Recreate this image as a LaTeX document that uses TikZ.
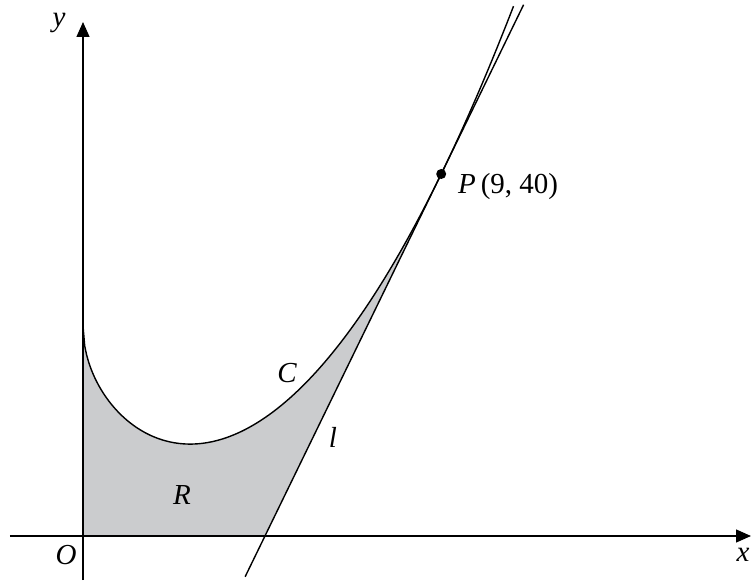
\documentclass[tikz,border=0pt]{standalone}
\usepackage{fontspec}
\setmainfont{Liberation Serif}
\usetikzlibrary{arrows.meta}
\definecolor{rfill}{RGB}{203,204,206}
\tikzset{
  axis/.style={line width=1.4pt, -{Triangle[length=15pt,width=13pt]}},
  curveline/.style={line width=1.4pt, line join=round},
  lab/.style={font=\fontsize{29}{32}\selectfont\itshape, inner sep=0pt},
}
\begin{document}
\begin{tikzpicture}[x=39.8pt, y=9.05pt]
\useasboundingbox (-83pt,-44pt) rectangle (668pt,536pt);
\pgfmathsetmacro{\m}{18*0.6 - 10.6/6}
\coordinate (O) at (0,0);
\coordinate (P) at (9,40);
\coordinate (Xint) at ({9-40/\m},0);
\coordinate (Lbot) at ({9-44.5/\m},-4.5);
\coordinate (Ltop) at ({9+18.7/\m},58.7);
% shaded region R
\fill[rfill] (O) -- (0,23.2) -- plot[domain=0:9, samples=150] (\x, {0.6*\x*\x - 10.6*sqrt(\x) + 23.2}) -- (Xint) -- cycle;
% axes
\coordinate (Xl) at (-73pt,0);
\coordinate (Xr) at (668pt,0);
\coordinate (Yb) at (0,-44pt);
\coordinate (Yt) at (0,514pt);
\draw[axis] (Xl) -- (Xr);
\draw[axis] (Yb) -- (Yt);
% curve C
\draw[curveline] plot[domain=0:10.82, samples=250] (\x, {0.6*\x*\x - 10.6*sqrt(\x) + 23.2});
% tangent l
\draw[curveline] (Lbot) -- (Ltop);
% point P
\fill (P) circle (5pt);
% labels
\node[lab] (ylab) at (-24pt,513pt) {y};
\node[lab] (olab) at (-17pt,-19pt) {O};
\node[lab] (xlab) at (660pt,-19pt) {x};
\node[lab, anchor=west] (plab) at (375pt,349pt) {P\,\upshape(9, 40)};
\node[lab] (clab) at (204pt,163pt) {C};
\node[lab] (llab) at (250pt,99pt) {l};
\node[lab] (rlab) at (99pt,41pt) {R};
\end{tikzpicture}
\end{document}
